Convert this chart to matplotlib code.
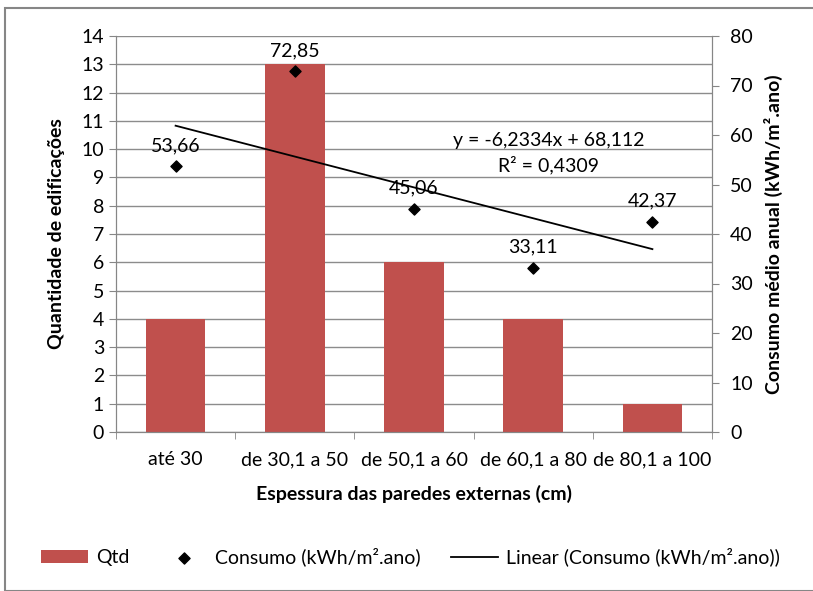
import matplotlib.pyplot as plt
import numpy as np

categorias = ['até 30', 'de 30,1 a 50', 'de 50,1 a 60', 'de 60,1 a 80', 'de 80,1 a 100']
qtd = [4, 13, 6, 4, 1]
consumo = [53.66, 72.85, 45.06, 33.11, 42.37]
rotulos = ['53,66', '72,85', '45,06', '33,11', '42,37']
coef_a, coef_b = -6.2334, 68.112

plt.rcParams['font.family'] = ['Lato', 'DejaVu Sans']
fs = 14

fig = plt.figure(figsize=(8.13, 5.91), dpi=100)
ax1 = fig.add_axes([116 / 813, 1 - 432 / 591, (712 - 116) / 813, (432 - 36) / 591])
ax2 = ax1.twinx()

x = np.arange(1, len(categorias) + 1)
ax1.bar(x, qtd, width=0.5, color='#c0504d', zorder=2, label='Qtd')
ax1.set_ylim(0, 14)
ax1.set_yticks(range(0, 15))
ax1.set_xlim(0.5, 5.5)
ax1.set_xticks(x)
ax1.set_xticklabels(categorias)
ax1.set_xticks(np.arange(0.5, 6, 1), minor=True)
ax1.grid(axis='y', color='#8c8c8c', linewidth=1, zorder=0)
ax1.set_axisbelow(True)

sc = ax2.scatter(x, consumo, marker='D', s=32, color='black', zorder=4,
                 label='Consumo (kWh/m².ano)')
xt = np.array([1, 5])
ln, = ax2.plot(xt, coef_a * xt + coef_b, color='black', linewidth=1.3,
               label='Linear (Consumo (kWh/m².ano))')
for xi, yi, t in zip(x, consumo, rotulos):
    ax2.annotate(t, (xi, yi), xytext=(0, 9), textcoords='offset points',
                 ha='center', va='bottom', fontsize=fs)
ax2.text(4.13, 56.3, 'y = -6,2334x + 68,112\nR² = 0,4309', ha='center', va='center',
         fontsize=fs, linespacing=1.4)
ax2.set_ylim(0, 80)
ax2.set_yticks(range(0, 81, 10))

for a in (ax1, ax2):
    for s in a.spines.values():
        s.set_color('#868686')
    a.spines['top'].set_visible(False)
    a.tick_params(labelsize=fs, color='#868686', length=5)
ax1.tick_params(axis='x', which='major', length=0, pad=14)
ax1.tick_params(axis='x', which='minor', length=5, color='#868686')
ax2.tick_params(axis='y', pad=8)

ax1.set_ylabel('Quantidade de edificações', fontsize=fs, fontweight='bold', labelpad=12)
ax2.set_ylabel('Consumo médio anual (kWh/m².ano)', fontsize=fs, fontweight='bold', labelpad=8)
ax1.set_xlabel('Espessura das paredes externas (cm)', fontsize=fs, fontweight='bold', labelpad=12)

h1, l1 = ax1.get_legend_handles_labels()
fig.legend(h1 + [sc, ln], l1 + [sc.get_label(), ln.get_label()], loc='center',
           bbox_to_anchor=(0.505, 1 - 557 / 591), ncol=3, frameon=False, fontsize=fs,
           handlelength=2.4, columnspacing=1.6, handletextpad=0.4)

fig.patches.append(plt.Rectangle((5 / 813, 0), 1.2, 1 - 8 / 591, transform=fig.transFigure,
                                 fill=False, edgecolor='#868686', linewidth=1.5))

fig.savefig('out.png', dpi=100)
